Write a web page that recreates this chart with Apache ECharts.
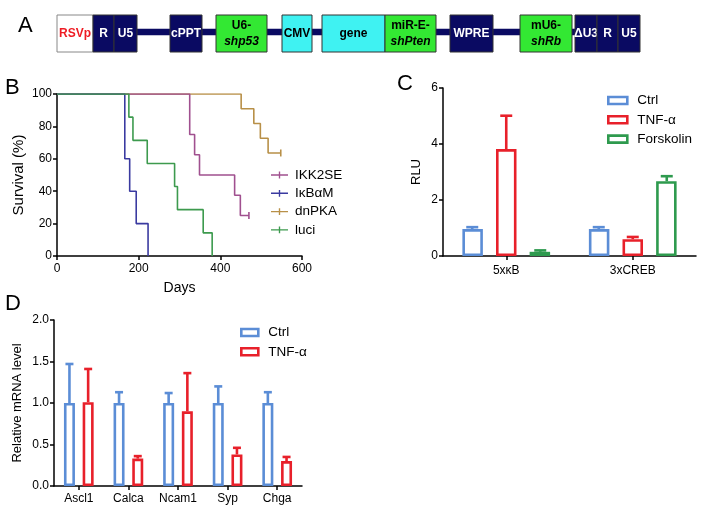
<!DOCTYPE html>
<html>
<head>
<meta charset="utf-8">
<script src="https://cdn.jsdelivr.net/npm/echarts@6/dist/echarts.min.js"></script>
<style>html,body{margin:0;padding:0;background:#fff}#c{width:704px;height:511px}</style>
</head>
<body>
<div id="c"></div>
<script>
// ---------- Panel A: vector map ----------
const segLabels = ['RSVp','R','U5','cPPT','U6-|shp53','CMV','gene','miR-E-|shPten','WPRE','mU6-|shRb','ΔU3','R','U5'];
const segStart  = [57, 93, 114, 170, 216, 282, 322, 385, 450, 520, 575, 597, 618];
const segEnd    = [93, 114, 137, 202, 267, 312, 385, 436, 493, 572, 597, 618, 640];
const segKind   = ['rsv','ltr','ltr','elem','sh','cmv','gene','sh','elem','sh','ltr','ltr','ltr'];
const backbone  = [93, 640];

// ---------- Panel B: survival ----------
const bNames = ['IKK2SE', 'IκBαM', 'dnPKA', 'luci'];
const ikkTime  = [0, 325, 337, 349, 435, 449, 470];
const ikkSurv  = [100, 75, 62.5, 50, 37.5, 25, 25];
const ikbTime  = [0, 166, 178, 194, 223];
const ikbSurv  = [100, 60, 40, 20, 0];
const pkaTime  = [0, 451, 482, 498, 517, 548];
const pkaSurv  = [100, 90.9, 81.8, 72.7, 63.6, 63.6];
const luciTime = [0, 176, 186, 221, 288, 295, 358, 380];
const luciSurv = [100, 85.7, 71.4, 57.1, 42.9, 28.6, 14.3, 0];

// ---------- Panel C: RLU ----------
const cCategories = ['5xκB', '3xCREB'];
const cCtrl     = [0.96, 0.96];
const cCtrlErr  = [0.07, 0.07];
const cTnf      = [3.82, 0.60];
const cTnfErr   = [1.19, 0.08];
const cFors     = [0.15, 2.67];
const cForsErr  = [0.05, 0.18];

// ---------- Panel D: mRNA ----------
const dCategories = ['Ascl1', 'Calca', 'Ncam1', 'Syp', 'Chga'];
const dCtrl     = [1.0, 1.0, 1.0, 1.0, 1.0];
const dCtrlErr  = [0.47, 0.13, 0.12, 0.20, 0.13];
const dTnf      = [1.01, 0.33, 0.90, 0.38, 0.30];
const dTnfErr   = [0.40, 0.03, 0.46, 0.08, 0.05];

const FONT = 'Liberation Sans, Arial, Helvetica, sans-serif';
const NAVY = '#0a0a62', GREEN = '#33e833', CYAN = '#3ff2f2';
const kindFill = {rsv:'#ffffff', ltr:NAVY, elem:NAVY, sh:GREEN, cmv:CYAN, gene:CYAN};
const kindText = {rsv:'#ee1c24', ltr:'#ffffff', elem:'#ffffff', sh:'#000000', cmv:'#000000', gene:'#000000'};

const C_CTRL = '#5b8dd6', C_TNF = '#e8202a', C_FORS = '#2e9a4e';
const B_COLORS = ['#a0508f', '#3a3aa0', '#b89048', '#3d9a4e'];

function stepData(t, s, censored) {
  return t.map((x, i) => {
    const d = {value: [x, s[i]]};
    if (censored && i === t.length - 1) {
      d.symbol = 'rect'; d.symbolSize = [1.6, 7];
    }
    return d;
  });
}

function errSeries(name, xi, yi, vals, errs, color, offset, capW, lw) {
  return {
    type: 'custom', name: name, xAxisIndex: xi, yAxisIndex: yi, z: 5,
    silent: true,
    data: vals.map((v, i) => [i, v, errs[i]]),
    renderItem: function (params, api) {
      const i = api.value(0), v = api.value(1), e = api.value(2);
      const p0 = api.coord([i, v]);
      const p1 = api.coord([i, v + e]);
      const x = p0[0] + offset;
      return {type: 'group', children: [
        {type: 'line', shape: {x1: x, y1: p0[1], x2: x, y2: p1[1]}, style: {stroke: color, lineWidth: lw}},
        {type: 'line', shape: {x1: x - capW / 2, y1: p1[1], x2: x + capW / 2, y2: p1[1]}, style: {stroke: color, lineWidth: lw}}
      ]};
    }
  };
}

function barSeries(name, xi, yi, vals, color, bw, gap) {
  return {
    type: 'bar', name: name, xAxisIndex: xi, yAxisIndex: yi,
    data: vals, barWidth: bw, barGap: gap,
    itemStyle: {color: '#ffffff', borderColor: color, borderWidth: 2.6},
    silent: true
  };
}

const axisTxt = {color: '#000', fontFamily: FONT, fontSize: 12};
const axisLine = {show: true, lineStyle: {color: '#000', width: 1.5}};
const axisTick = {show: true, length: 4, lineStyle: {color: '#000', width: 1.5}};
const nameTxt = {color: '#000', fontFamily: FONT, fontSize: 13};
const letter = {fontSize: 22, fontWeight: 'normal', color: '#000', fontFamily: FONT};

const chart = echarts.init(document.getElementById('c'), null, {renderer: 'canvas'});
const option = {
  backgroundColor: '#ffffff',
  animation: false,
  title: [
    {text: 'A', left: 13, top: 10, textStyle: letter},
    {text: 'B', left: 0, top: 72, textStyle: letter},
    {text: 'C', left: 392, top: 68, textStyle: letter},
    {text: 'D', left: 0, top: 288, textStyle: letter}
  ],
  legend: [
    {
      data: bNames, orient: 'vertical', left: 266, top: 163, itemWidth: 17, itemHeight: 7, itemGap: 4.3,
      icon: 'path://M0,3.2h20v1.6h-20z M9.2,0h1.6v8h-1.6z',
      textStyle: {color: '#000', fontFamily: FONT, fontSize: 13.5, lineHeight: 14, padding: [0, 0, 0, 2]}
    },
    {
      data: ['Ctrl', 'TNF-α', 'Forskolin'].map(n => ({name: n, icon: 'rect'})),
      orient: 'vertical', left: 602, top: 88, itemWidth: 19, itemHeight: 7, itemGap: 4.3,
      textStyle: {color: '#000', fontFamily: FONT, fontSize: 13.5, lineHeight: 15, padding: [0, 0, 0, 5]},
      itemStyle: {color: '#fff', borderWidth: 2.6}
    },
    {
      data: [{name: 'Ctrl ', icon: 'rect'}, {name: 'TNF-α ', icon: 'rect'}],
      orient: 'vertical', left: 235, top: 320, itemWidth: 17, itemHeight: 7, itemGap: 4.3,
      textStyle: {color: '#000', fontFamily: FONT, fontSize: 13.5, lineHeight: 15, padding: [0, 0, 0, 5]},
      itemStyle: {color: '#fff', borderWidth: 2.6}
    }
  ],
  grid: [
    {left: 0, top: 15, width: 704, height: 37},
    {left: 57, top: 94, width: 245, height: 162},
    {left: 443, top: 88, width: 253, height: 168},
    {left: 54, top: 320, width: 248, height: 166}
  ],
  xAxis: [
    {gridIndex: 0, type: 'value', min: 0, max: 704, show: false},
    {gridIndex: 1, type: 'value', min: 0, max: 600, interval: 200,
     name: 'Days', nameLocation: 'middle', nameGap: 25, nameTextStyle: Object.assign({}, nameTxt, {fontSize: 14}),
     axisLine: axisLine, axisTick: axisTick, axisLabel: Object.assign({margin: 7}, axisTxt), splitLine: {show: false}},
    {gridIndex: 2, type: 'category', data: cCategories,
     axisLine: axisLine, axisTick: Object.assign({alignWithLabel: true}, axisTick), axisLabel: Object.assign({margin: 9}, axisTxt)},
    {gridIndex: 3, type: 'category', data: dCategories,
     axisLine: axisLine, axisTick: Object.assign({alignWithLabel: true}, axisTick), axisLabel: Object.assign({margin: 7}, axisTxt)}
  ],
  yAxis: [
    {gridIndex: 0, type: 'value', min: 0, max: 1, show: false},
    {gridIndex: 1, type: 'value', min: 0, max: 100, interval: 20,
     name: 'Survival (%)', nameLocation: 'middle', nameGap: 31, nameTextStyle: Object.assign({}, nameTxt, {fontSize: 15}),
     axisLine: axisLine, axisTick: axisTick, axisLabel: Object.assign({margin: 5}, axisTxt), splitLine: {show: false}},
    {gridIndex: 2, type: 'value', min: 0, max: 6, interval: 2,
     name: 'RLU', nameLocation: 'middle', nameGap: 20, nameTextStyle: nameTxt,
     axisLine: axisLine, axisTick: axisTick, axisLabel: Object.assign({margin: 5}, axisTxt), splitLine: {show: false}},
    {gridIndex: 3, type: 'value', min: 0, max: 2, interval: 0.5,
     name: 'Relative mRNA level', nameLocation: 'middle', nameGap: 30, nameTextStyle: nameTxt,
     axisLine: axisLine, axisTick: axisTick,
     axisLabel: Object.assign({margin: 5, formatter: v => v.toFixed(1)}, axisTxt), splitLine: {show: false}}
  ],
  series: [
    // Panel A backbone
    {
      type: 'custom', xAxisIndex: 0, yAxisIndex: 0, silent: true, z: 1,
      data: [[backbone[0], backbone[1]]],
      renderItem: function (params, api) {
        const a = api.coord([api.value(0), 0.63]);
        const b = api.coord([api.value(1), 0.45]);
        return {type: 'rect', shape: {x: a[0], y: a[1], width: b[0] - a[0], height: b[1] - a[1]}, style: {fill: NAVY}};
      }
    },
    // Panel A boxes
    {
      type: 'custom', xAxisIndex: 0, yAxisIndex: 0, silent: true, z: 2,
      data: segLabels.map((l, i) => [segStart[i], segEnd[i], i]),
      renderItem: function (params, api) {
        const i = api.value(2);
        const tl = api.coord([api.value(0), 1]);
        const br = api.coord([api.value(1), 0]);
        const parts = segLabels[i].split('|');
        const kind = segKind[i];
        const txt = parts.length > 1 ? '{n|' + parts[0] + '}\n{it|' + parts[1] + '}' : '{n|' + parts[0] + '}';
        const col = kindText[kind];
        return {type: 'group', children: [
          {type: 'rect', shape: {x: tl[0], y: tl[1], width: br[0] - tl[0], height: br[1] - tl[1]},
           style: {fill: kindFill[kind], stroke: kind === 'rsv' ? '#888' : '#333', lineWidth: 1}},
          {type: 'text', x: (tl[0] + br[0]) / 2, y: (tl[1] + br[1]) / 2 + 0.5,
           style: {text: txt, align: 'center', verticalAlign: 'middle',
             rich: {
               n: {fill: col, fontFamily: FONT, fontSize: 12, fontWeight: 'bold', lineHeight: 16, align: 'center'},
               it: {fill: col, fontFamily: FONT, fontSize: 12, fontWeight: 'bold', fontStyle: 'italic', lineHeight: 16, align: 'center'}
             }}}
        ]};
      }
    },
    // Panel B survival lines
    {type: 'line', name: 'dnPKA', xAxisIndex: 1, yAxisIndex: 1, step: 'end', data: stepData(pkaTime, pkaSurv, true),
     showSymbol: true, symbol: 'none', color: B_COLORS[2], lineStyle: {width: 1.6, color: B_COLORS[2]}, itemStyle: {color: B_COLORS[2]}, z: 2},
    {type: 'line', name: 'IKK2SE', xAxisIndex: 1, yAxisIndex: 1, step: 'end', data: stepData(ikkTime, ikkSurv, true),
     showSymbol: true, symbol: 'none', color: B_COLORS[0], lineStyle: {width: 1.6, color: B_COLORS[0]}, itemStyle: {color: B_COLORS[0]}, z: 3},
    {type: 'line', name: 'IκBαM', xAxisIndex: 1, yAxisIndex: 1, step: 'end', data: stepData(ikbTime, ikbSurv, false),
     showSymbol: false, symbol: 'none', color: B_COLORS[1], lineStyle: {width: 1.6, color: B_COLORS[1]}, itemStyle: {color: B_COLORS[1]}, z: 4},
    {type: 'line', name: 'luci', xAxisIndex: 1, yAxisIndex: 1, step: 'end', data: stepData(luciTime, luciSurv, false),
     showSymbol: false, symbol: 'none', color: B_COLORS[3], lineStyle: {width: 1.6, color: B_COLORS[3]}, itemStyle: {color: B_COLORS[3]}, z: 5},
    // Panel C
    barSeries('Ctrl', 2, 2, cCtrl, C_CTRL, 20.5, '64%'),
    barSeries('TNF-α', 2, 2, cTnf, C_TNF, 20.5, '64%'),
    barSeries('Forskolin', 2, 2, cFors, C_FORS, 20.5, '64%'),
    errSeries('eC1', 2, 2, cCtrl, cCtrlErr, C_CTRL, -34, 12, 2.6),
    errSeries('eC2', 2, 2, cTnf, cTnfErr, C_TNF, 0, 12, 2.6),
    errSeries('eC3', 2, 2, cFors, cForsErr, C_FORS, 34, 12, 2.6),
    // Panel D
    barSeries('Ctrl ', 3, 3, dCtrl, C_CTRL, 11, '70%'),
    barSeries('TNF-α ', 3, 3, dTnf, C_TNF, 11, '70%'),
    errSeries('eD1', 3, 3, dCtrl, dCtrlErr, C_CTRL, -9.35, 8, 2.6),
    errSeries('eD2', 3, 3, dTnf, dTnfErr, C_TNF, 9.35, 8, 2.6)
  ]
};
chart.setOption(option);
</script>
</body>
</html>
